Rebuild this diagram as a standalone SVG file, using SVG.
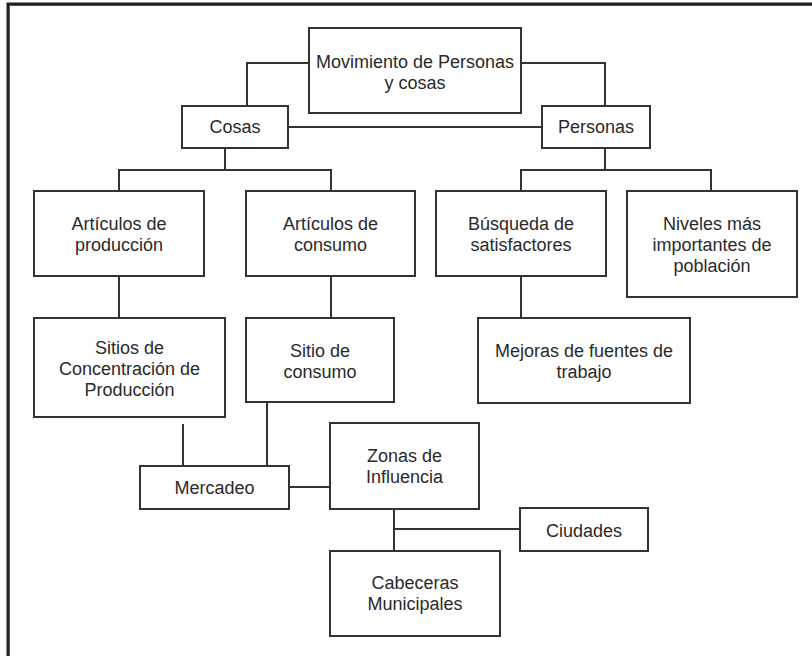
<svg xmlns="http://www.w3.org/2000/svg" width="812" height="656" viewBox="0 0 812 656">
<style>
  .box { fill: #ffffff; stroke: #333333; stroke-width: 2; }
  .lbl { font-family: "Liberation Sans", Arial, sans-serif; font-size: 18px; fill: #2a2a2a; text-anchor: middle; }
  .conn path { fill: none; stroke: #333333; stroke-width: 2; }
</style>
<rect x="0" y="0" width="812" height="656" fill="#ffffff"/>
<g id="frame">
  <path d="M9.5,656 V5.5 H812" fill="none" stroke="#8a8a8a" stroke-width="1"/>
  <path d="M8,656 V4 H812" fill="none" stroke="#231f20" stroke-width="3"/>
</g>
<g class="conn" id="connectors">
  <path d="M309,63 H247 V106"/>
  <path d="M521,63 H605 V106"/>
  <path d="M288,127 H542"/>
  <path d="M225,148 V170"/>
  <path d="M119,191 V170 H331 V191"/>
  <path d="M605,148 V170"/>
  <path d="M521,191 V170 H711 V191"/>
  <path d="M119,276 V318"/>
  <path d="M331,276 V318"/>
  <path d="M521,276 V318"/>
  <path d="M183,424 V466"/>
  <path d="M267,402 V466"/>
  <path d="M289,487 H330"/>
  <path d="M394,509 V551"/>
  <path d="M394,529 H520"/>
</g>
<g id="movimiento">
  <rect class="box" x="309" y="28" width="212" height="85"/>
  <text class="lbl" x="415" y="68">Movimiento de Personas</text>
  <text class="lbl" x="415" y="89">y cosas</text>
</g>
<g id="cosas">
  <rect class="box" x="182" y="106" width="106" height="42"/>
  <text class="lbl" x="235" y="133">Cosas</text>
</g>
<g id="personas">
  <rect class="box" x="542" y="106" width="108" height="42"/>
  <text class="lbl" x="596" y="133">Personas</text>
</g>
<g id="art-produccion">
  <rect class="box" x="34" y="191" width="170" height="85"/>
  <text class="lbl" x="119" y="230">Artículos de</text>
  <text class="lbl" x="119" y="251">producción</text>
</g>
<g id="art-consumo">
  <rect class="box" x="246" y="191" width="169" height="85"/>
  <text class="lbl" x="330.5" y="230">Artículos de</text>
  <text class="lbl" x="330.5" y="251">consumo</text>
</g>
<g id="busqueda">
  <rect class="box" x="436" y="191" width="170" height="85"/>
  <text class="lbl" x="521" y="230">Búsqueda de</text>
  <text class="lbl" x="521" y="251">satisfactores</text>
</g>
<g id="niveles">
  <rect class="box" x="627" y="191" width="170" height="106"/>
  <text class="lbl" x="712" y="230">Niveles más</text>
  <text class="lbl" x="712" y="251">importantes de</text>
  <text class="lbl" x="712" y="272">población</text>
</g>
<g id="sitios-concentracion">
  <rect class="box" x="34" y="318" width="191" height="99"/>
  <text class="lbl" x="129.5" y="354">Sitios de</text>
  <text class="lbl" x="129.5" y="375">Concentración de</text>
  <text class="lbl" x="129.5" y="396">Producción</text>
</g>
<g id="sitio-consumo">
  <rect class="box" x="246" y="318" width="148" height="84"/>
  <text class="lbl" x="320" y="357">Sitio de</text>
  <text class="lbl" x="320" y="378">consumo</text>
</g>
<g id="mejoras">
  <rect class="box" x="478" y="318" width="212" height="85"/>
  <text class="lbl" x="584" y="357">Mejoras de fuentes de</text>
  <text class="lbl" x="584" y="378">trabajo</text>
</g>
<g id="mercadeo">
  <rect class="box" x="140" y="466" width="149" height="43"/>
  <text class="lbl" x="214.5" y="494">Mercadeo</text>
</g>
<g id="zonas">
  <rect class="box" x="330" y="423" width="149" height="86"/>
  <text class="lbl" x="404.5" y="462">Zonas de</text>
  <text class="lbl" x="404.5" y="483">Influencia</text>
</g>
<g id="ciudades">
  <rect class="box" x="520" y="508" width="128" height="43"/>
  <text class="lbl" x="584" y="537">Ciudades</text>
</g>
<g id="cabeceras">
  <rect class="box" x="330" y="551" width="170" height="85"/>
  <text class="lbl" x="415" y="589">Cabeceras</text>
  <text class="lbl" x="415" y="610">Municipales</text>
</g>
</svg>
